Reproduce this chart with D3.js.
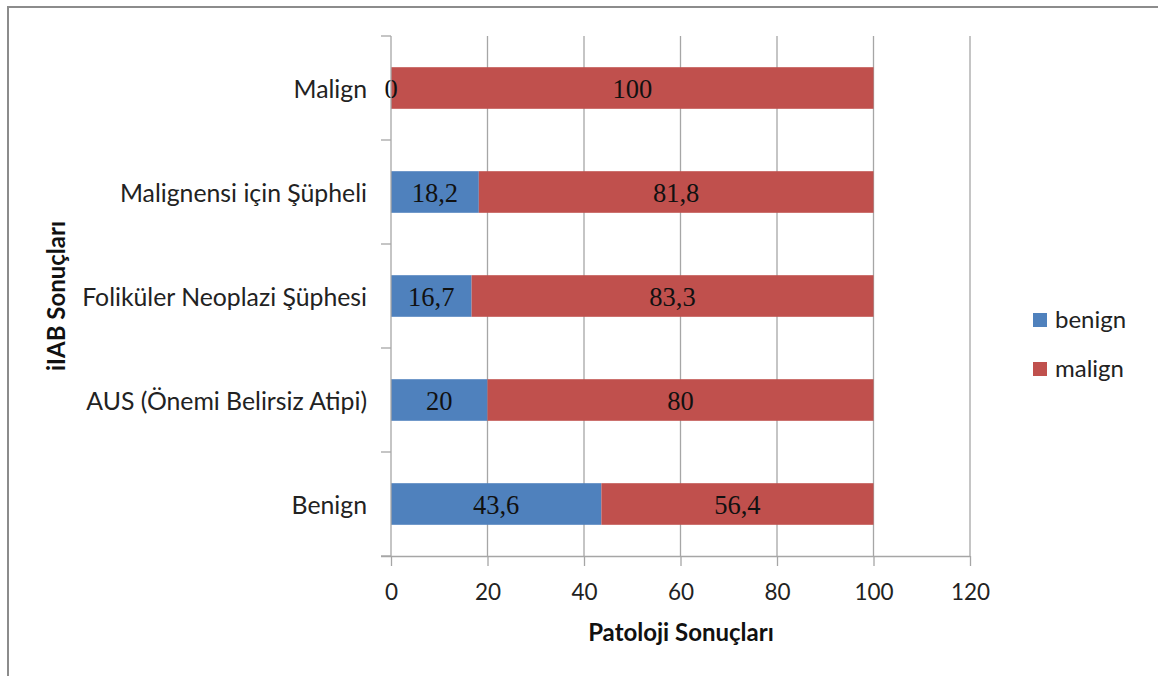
<!DOCTYPE html>
<html><head><meta charset="utf-8">
<script src="https://cdn.jsdelivr.net/npm/d3@7"></script>
<style>body{margin:0;background:#fff}svg{display:block}</style>
</head><body>
<svg id="c" width="1158" height="676"></svg>
<script>
const categories = ["Malign", "Malignensi için Şüpheli", "Foliküler Neoplazi Şüphesi", "AUS (Önemi Belirsiz Atipi)", "Benign"];
const benign = [0, 18.2, 16.7, 20, 43.6];
const malign = [100, 81.8, 83.3, 80, 56.4];
const seriesNames = ["benign", "malign"];
const xTicks = [0, 20, 40, 60, 80, 100, 120];
const colors = ["#4F81BD", "#C0504D"];

const svg = d3.select("#c");
const sans = "Lato, 'Open Sans', sans-serif";
const serif = "'Liberation Serif', 'Times New Roman', serif";

// frame
svg.append("rect").attr("x", 8).attr("y", 7).attr("width", 1170).attr("height", 700)
  .attr("fill", "none").attr("stroke", "#8c8c8c").attr("stroke-width", 2);

const L = 391, R = 970, T = 36, B = 556;
const x = d3.scaleLinear().domain([0, 120]).range([L, R]);
const y = d3.scaleBand().domain(categories).range([T, B]).paddingInner(0.6).paddingOuter(0.3);
const yb = d3.scaleBand().domain(categories).range([T, B]);

// gridlines
svg.append("g").selectAll("line").data(xTicks.slice(1)).join("line")
  .attr("x1", d => x(d)).attr("x2", d => x(d)).attr("y1", T).attr("y2", B)
  .attr("stroke", "#a6a6a6").attr("stroke-width", 1.3);

// bars
const rows = categories.map((c, i) => ({c, b: benign[i], m: malign[i]}));
const g = svg.append("g");
const fmt = v => String(v).replace(".", ",");
rows.forEach(r => {
  g.append("rect").attr("x", x(0)).attr("y", y(r.c)).attr("width", x(r.b) - x(0)).attr("height", y.bandwidth()).attr("fill", colors[0]);
  g.append("rect").attr("x", x(r.b)).attr("y", y(r.c)).attr("width", x(r.b + r.m) - x(r.b)).attr("height", y.bandwidth()).attr("fill", colors[1]);
  const cy = y(r.c) + y.bandwidth() / 2 + 9.5;
  g.append("text").attr("x", (x(0) + x(r.b)) / 2).attr("y", cy)
    .attr("text-anchor", "middle").attr("font-family", serif).attr("font-size", 26.5).attr("fill", "#111").text(fmt(r.b));
  g.append("text").attr("x", (x(r.b) + x(r.b + r.m)) / 2).attr("y", cy)
    .attr("text-anchor", "middle").attr("font-family", serif).attr("font-size", 26.5).attr("fill", "#111").text(fmt(r.m));
});

// x axis
const xa = svg.append("g").attr("transform", `translate(0,${B})`)
  .call(d3.axisBottom(x).tickValues(xTicks).tickSize(10));
xa.select(".domain").attr("d", `M${L - 10},0.5H${R}`).attr("stroke", "#a6a6a6").attr("stroke-width", 1.3);
xa.selectAll(".tick line").attr("stroke", "#a6a6a6").attr("stroke-width", 1.3);
xa.selectAll(".tick text").attr("y", 44).attr("dy", 0).attr("font-family", sans).attr("font-size", 22.5).attr("fill", "#222");

// y axis
const ya = svg.append("g").attr("transform", `translate(${L},0)`);
ya.append("line").attr("x1", 0).attr("x2", 0).attr("y1", T).attr("y2", B).attr("stroke", "#a6a6a6").attr("stroke-width", 1.3);
const bounds = categories.map(c => yb(c)).concat([B]);
ya.selectAll("line.t").data(bounds).join("line").attr("class", "t")
  .attr("x1", -10).attr("x2", 0).attr("y1", d => d).attr("y2", d => d).attr("stroke", "#a6a6a6").attr("stroke-width", 1.3);
ya.selectAll("text").data(categories).join("text")
  .attr("x", -24).attr("y", d => yb(d) + yb.bandwidth() / 2 + 9.5).attr("text-anchor", "end")
  .attr("font-family", sans).attr("font-size", 24.8).attr("fill", "#222").text(d => d);

// axis titles
svg.append("text").attr("x", 681).attr("y", 641).attr("text-anchor", "middle")
  .attr("font-family", sans).attr("font-weight", "bold").attr("font-size", 24).attr("fill", "#111").text("Patoloji Sonuçları");
svg.append("text").attr("transform", "translate(65,296) rotate(-90)").attr("text-anchor", "middle")
  .attr("font-family", sans).attr("font-weight", "bold").attr("font-size", 24).attr("fill", "#111").text("iIAB Sonuçları");

// legend
const leg = svg.append("g");
seriesNames.forEach((s, i) => {
  const cy = 320 + i * 49;
  leg.append("rect").attr("x", 1033).attr("y", cy - 7).attr("width", 14).attr("height", 14).attr("fill", colors[i]);
  leg.append("text").attr("x", 1055).attr("y", cy + 7.5).attr("font-family", sans).attr("font-size", 24).attr("fill", "#222").text(s);
});
</script>
</body></html>
